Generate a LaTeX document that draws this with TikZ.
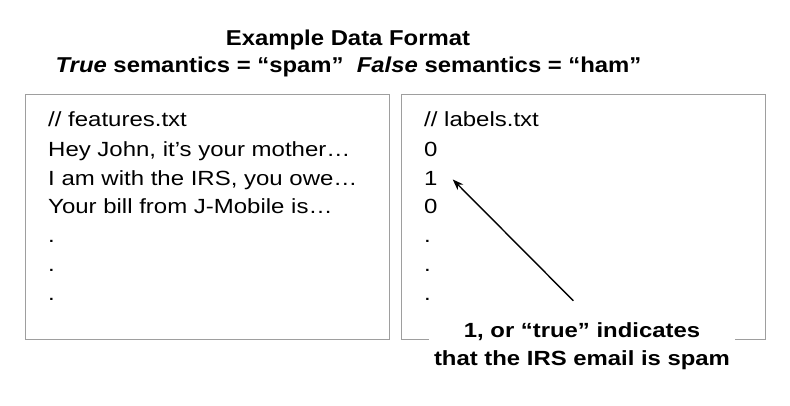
\documentclass[tikz,border=0pt]{standalone}
\usepackage{fontspec}
\setmainfont{Liberation Sans}[FakeStretch=1.17]
\newfontfamily\headfont{Liberation Sans}[FakeStretch=1.11]
\newfontfamily\notefont{Liberation Sans}[FakeStretch=1.165]
\usetikzlibrary{arrows.meta}
\begin{document}
\begin{tikzpicture}[x=1pt,y=-1pt,
  filebox/.style={draw=black!38, line width=1pt, inner sep=0pt, anchor=north west,
    minimum width=364pt, minimum height=245pt},
  txt/.style={anchor=base west, inner sep=0pt, font=\fontsize{20.5}{24}\selectfont},
  head/.style={anchor=base, inner sep=0pt, font=\headfont\bfseries\fontsize{21.5}{24}\selectfont},
  note/.style={anchor=north, fill=white, inner xsep=5.5pt, inner ysep=3pt, align=center,
    font=\notefont\bfseries\fontsize{20.5}{28}\selectfont},
  pointer/.style={-{Stealth[length=11pt,width=8pt]}, line width=1.4pt}]
\useasboundingbox (0,0) rectangle (790,405);
\node[head] (title) at (348,45.7) {Example Data Format};
\node[head] (sem) at (348.5,72.7) {\textit{True} semantics = “spam”\ \ \textit{False} semantics = “ham”};
% boxes
\node[filebox] (fbox) at (24.5,93.5) {};
\node[filebox] (lbox) at (400.5,93.5) {};
% features
\node[txt] (f0) at (48,126.5) {// features.txt};
\node[txt] (f1) at (48,156) {Hey John, it’s your mother…};
\node[txt] (f2) at (48,185) {I am with the IRS, you owe…};
\node[txt] (f3) at (48,213.5) {Your bill from J-Mobile is…};
\node[txt] (f4) at (48,242) {.};
\node[txt] (f5) at (48,271) {.};
\node[txt] (f6) at (48,300) {.};
% labels
\node[txt] (l0) at (424,126.5) {// labels.txt};
\node[txt] (l1) at (424,156) {0};
\node[txt] (l2) at (424,185) {1};
\node[txt] (l3) at (424,213.5) {0};
\node[txt] (l4) at (424,242) {.};
\node[txt] (l5) at (424,271) {.};
\node[txt] (l6) at (424,300) {.};
% annotation
\node[note] (ann) at (582,319.5) {1, or “true” indicates\\that the IRS email is spam};
\coordinate (tail) at (573.3,300.7);
\draw[pointer] (tail) -- ([xshift=15pt,yshift=-1.5pt]l2.east);
\end{tikzpicture}
\end{document}
